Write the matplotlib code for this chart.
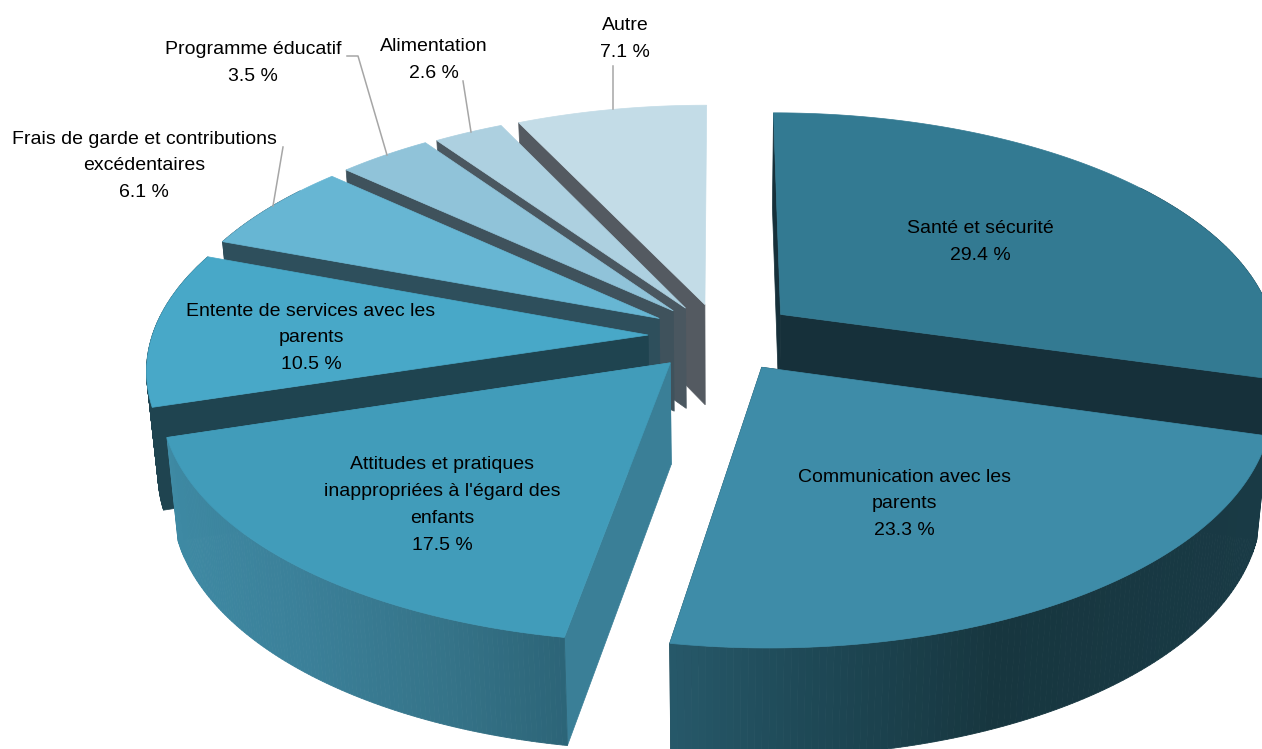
import numpy as np
import matplotlib.pyplot as plt
from matplotlib.colors import to_rgb

plt.rcParams['font.family'] = ['Liberation Sans', 'DejaVu Sans']

labels = ["Santé et sécurité", "Communication avec les\nparents", "Attitudes et pratiques\ninappropriées à l'égard des\nenfants",
          "Entente de services avec les\nparents", "Frais de garde et contributions\nexcédentaires",
          "Programme éducatif", "Alimentation", "Autre"]
values = [29.4, 23.3, 17.5, 10.5, 6.1, 3.5, 2.6, 7.1]

top_colors = ["#337a92", "#3e8ca8", "#419cba", "#48a8c8", "#67b6d3", "#90c3d9", "#add0e0", "#c3dce7"]
face_colors = ["#16303a", "#1a3a45", "#3a7f97", "#1f4450", "#2e4f5c", "#3f525c", "#4a5760", "#545a61"]
explode = [0.155, 0.155, 0.15, 0.145, 0.145, 0.145, 0.14, 0.14]
draw_order = [7, 6, 5, 4, 3, 0, 2, 1]

# outer wall shading, by pixel column
wall_x = {1: [668, 800, 1000, 1262], 2: [150, 300, 450, 570]}
wall_c = {1: ["#27596a", "#1f4a58", "#17363f", "#193a45"], 2: ["#3f8ba5", "#3b8099", "#357388", "#2c6477"]}

# fake 3d camera
cx, cy = 720, 336
A, B, p = 496, 234, 0.134
H, p2, k = 101, 0.06, 0.98


def project(x, y):
    d = 1 + p * y
    return cx + A * x / d, cy - B * y / d


def drop(sx, sy, y):
    return cx + (sx - cx) * k, sy + H / (1 + p2 * y)


def shade(name, sx):
    rgb = np.array([to_rgb(c) for c in wall_c[name]])
    return [np.interp(sx, wall_x[name], rgb[:, i]) for i in range(3)]


fig = plt.figure(figsize=(12.62, 7.49), dpi=100)
ax = fig.add_axes([0, 0, 1, 1])
ax.set_xlim(0, 1262)
ax.set_ylim(749, 0)
ax.axis("off")

edges = np.cumsum([0] + values) / sum(values) * 2 * np.pi

for i in draw_order:
    a0, a1 = edges[i], edges[i + 1]
    mid = (a0 + a1) / 2
    ox, oy = explode[i] * np.sin(mid), explode[i] * np.cos(mid)
    t = np.linspace(a0, a1, 120)
    X = ox + np.sin(t)
    Y = oy + np.cos(t)
    sx, sy = project(X, Y)
    bx, by = drop(sx, sy, Y)
    tx, ty = project(ox, oy)
    tbx, tby = drop(tx, ty, oy)

    # radial faces, the closing one only when it turns towards the camera
    ax.fill([tx, sx[0], bx[0], tbx], [ty, sy[0], by[0], tby], color=face_colors[i], lw=0.5)
    if np.cos(a1) < 0:
        ax.fill([tx, sx[-1], bx[-1], tbx], [ty, sy[-1], by[-1], tby], color=face_colors[i], lw=0.5)

    # outer wall, in short strips so it can be shaded
    for j in range(len(t) - 1):
        if np.cos(t[j]) > 0.6:
            continue
        c = shade(i, sx[j]) if i in wall_c else face_colors[i]
        ax.fill([sx[j], sx[j + 1], bx[j + 1], bx[j]], [sy[j], sy[j + 1], by[j + 1], by[j]], color=c, lw=0.6)

    ax.fill(np.r_[tx, sx], np.r_[ty, sy], color=top_colors[i], lw=0.5)

# leader lines
ax.plot([347, 358, 387], [56, 56, 155], color="#a6a6a6", lw=1.1)
ax.plot([283, 273], [147, 206], color="#a6a6a6", lw=1.1)
ax.plot([463, 471], [81, 132], color="#a6a6a6", lw=1.1)
ax.plot([613, 613], [66, 109], color="#a6a6a6", lw=1.1)

label_pos = [(980, 242), (904, 504), (442, 505), (311, 338), (144, 166), (253, 63), (434, 60), (625, 39)]
for name, v, (lx, ly) in zip(labels, values, label_pos):
    ax.text(lx, ly, f"{name}\n{v} %", ha="center", va="center", fontsize=14, linespacing=1.76, color="black")

fig.savefig("out.png", dpi=100)
